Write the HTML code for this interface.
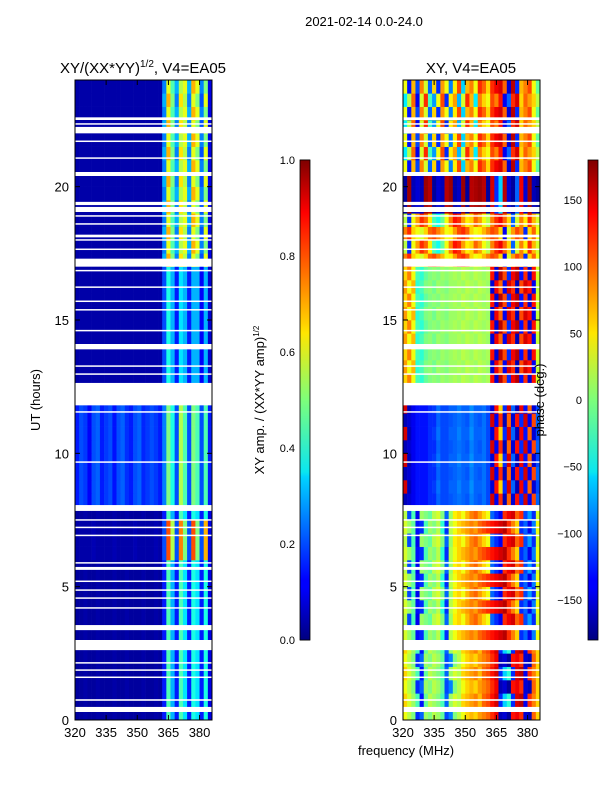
<!DOCTYPE html>
<html><head><meta charset="utf-8">
<style>
html,body{margin:0;padding:0;background:#fff;}
svg{display:block;font-family:"Liberation Sans",sans-serif;}
</style></head>
<body>
<svg id="fig" width="600" height="800" viewBox="0 0 600 800">
<defs>
<linearGradient id="jet" x1="0" y1="1" x2="0" y2="0">
<stop offset="0" stop-color="#00007f"/><stop offset="0.11" stop-color="#0000ff"/>
<stop offset="0.125" stop-color="#0000ff"/><stop offset="0.34" stop-color="#00d4ff"/>
<stop offset="0.35" stop-color="#0ae6f0"/><stop offset="0.5" stop-color="#7dff7a"/>
<stop offset="0.64" stop-color="#ffe600"/><stop offset="0.66" stop-color="#ffd000"/>
<stop offset="0.89" stop-color="#ff0000"/><stop offset="1" stop-color="#7f0000"/>
</linearGradient>
</defs>
<text x="364" y="26" font-size="13" text-anchor="middle">2021-02-14 0.0-24.0</text>
<text x="143" y="73" font-size="15" text-anchor="middle">XY/(XX*YY)<tspan dy="-6" font-size="10">1/2</tspan><tspan dy="6">, V4=EA05</tspan></text>
<text x="471" y="73" font-size="15" text-anchor="middle">XY, V4=EA05</text>
<g id="left"></g>
<g id="right"></g>
<g id="axes"></g>
<rect x="300" y="160" width="10" height="480" fill="url(#jet)" stroke="#000" stroke-width="0.8"/>
<rect x="588" y="160" width="10" height="480" fill="url(#jet)" stroke="#000" stroke-width="0.8"/>
<text transform="translate(40,400) rotate(-90)" font-size="13" text-anchor="middle">UT (hours)</text>
<text x="406" y="755" font-size="13" text-anchor="middle">frequency (MHz)</text>
<text transform="translate(264,400) rotate(-90)" font-size="13" text-anchor="middle">XY amp. / (XX*YY amp)<tspan dy="-5" font-size="8">1/2</tspan></text>
<text transform="translate(544,400) rotate(-90)" font-size="13" text-anchor="middle">phase (deg.)</text>
</svg>
<script>
const NS="http://www.w3.org/2000/svg";
// ---- data ----
const freqStart=320, freqStep=2, nFreq=33;
const rowHours=0.5;
const yTicks=[0,5,10,15,20];
const xTicks=[320,335,350,365,380];
const ampTicks=[0.0,0.2,0.4,0.6,0.8,1.0];
const phaseTicks=[-150,-100,-50,0,50,100,150];
const gaps=[[0.3,0.49],[0.72,0.78],[1.58,1.63],[1.85,1.9],[2.12,2.17],[2.62,3.0],[3.37,3.56],[4.18,4.23],[4.55,4.6],[4.85,4.9],[5.18,5.23],[5.63,5.74],[5.87,5.92],[6.9,6.95],[7.2,7.25],[7.48,7.53],[7.84,8.06],[9.65,9.7],[11.53,11.58],[11.8,12.64],[12.95,13.0],[13.25,13.3],[13.9,14.1],[14.58,14.63],[15.36,15.41],[15.68,15.73],[16.21,16.26],[16.83,16.88],[17.0,17.3],[17.63,17.68],[17.98,18.03],[18.1,18.2],[18.58,18.63],[18.88,18.93],[19.05,19.24],[19.31,19.43],[20.4,20.55],[21.05,21.1],[21.68,21.73],[22.0,22.24],[22.33,22.38],[22.5,22.6]];
const L_low=[0.03,0.03,0.04,0.03,0.03,0.04,0.03,0.03,0.03,0.04,0.03,0.03,0.04,0.03,0.03,0.03,0.04,0.03,0.03,0.04,0.03,0.15,0.45,0.3,0.15,0.45,0.35,0.15,0.4,0.35,0.15,0.4,0.1];
const L_orange=[0.04,0.04,0.04,0.04,0.05,0.04,0.04,0.04,0.04,0.05,0.04,0.04,0.04,0.04,0.05,0.04,0.04,0.04,0.04,0.05,0.04,0.2,0.8,0.55,0.2,0.75,0.5,0.2,0.8,0.5,0.2,0.7,0.1];
const L_blue=[0.15,0.2,0.18,0.12,0.2,0.22,0.15,0.18,0.2,0.14,0.2,0.22,0.17,0.15,0.2,0.22,0.16,0.18,0.2,0.18,0.15,0.25,0.5,0.4,0.2,0.55,0.45,0.2,0.5,0.45,0.2,0.45,0.15];
const L_mid=[0.04,0.04,0.04,0.04,0.04,0.04,0.04,0.04,0.04,0.04,0.04,0.04,0.04,0.04,0.04,0.04,0.04,0.04,0.04,0.04,0.04,0.2,0.4,0.3,0.15,0.35,0.3,0.15,0.3,0.3,0.12,0.3,0.08];
const L_bright=[0.04,0.04,0.04,0.04,0.04,0.04,0.04,0.04,0.04,0.04,0.04,0.04,0.04,0.04,0.04,0.04,0.04,0.04,0.04,0.04,0.04,0.3,0.7,0.5,0.25,0.65,0.55,0.25,0.6,0.5,0.2,0.6,0.1];
const L_bright2=[0.04,0.04,0.04,0.04,0.04,0.04,0.04,0.04,0.04,0.04,0.04,0.04,0.04,0.04,0.04,0.04,0.04,0.04,0.04,0.04,0.04,0.25,0.6,0.45,0.3,0.55,0.6,0.3,0.7,0.6,0.25,0.5,0.1];
const R_low_a=[40,20,0,-120,-100,10,0,20,10,-10,-110,-90,0,20,40,60,70,60,80,90,100,120,140,-160,-150,-170,130,140,120,-150,-160,100,60];
const R_low_b=[60,30,10,-20,-130,-10,20,10,0,-20,-100,10,30,20,60,70,80,90,70,100,110,130,150,-120,-60,-30,-120,150,160,-140,120,90,60];
const R_mid_a=[30,10,-10,-130,-120,-20,10,0,20,-30,-120,20,40,60,70,80,90,80,100,110,120,130,140,150,160,120,90,60,-120,-100,-140,-90,40];
const R_mid_b=[20,-110,-20,-140,10,0,-10,20,30,0,-100,10,50,60,40,70,90,100,80,60,40,-100,-120,-140,120,140,150,100,120,-110,-80,-120,30];
const R_blue_a=[-160,-150,-140,-130,-130,-130,-120,-120,-100,-110,-110,-105,-100,-95,-100,-105,-90,-100,-105,-95,-110,150,-140,120,-160,100,-150,130,-120,150,-140,110,-100];
const R_blue_b=[150,-160,-140,-130,-130,-130,-120,-115,-95,-110,-110,-100,-100,-90,-100,-100,-85,-100,-100,-95,-110,-150,130,60,-120,150,-100,-160,140,-130,100,-150,-110];
const R_green_a=[60,90,40,-20,-30,-10,0,5,0,10,5,10,15,10,20,15,10,20,15,10,15,130,-150,160,110,-120,140,160,-130,120,-150,130,30];
const R_green_b=[80,40,70,-30,-20,0,5,-5,10,5,0,10,10,15,10,20,15,10,20,15,10,-150,140,100,-140,150,120,-160,110,150,130,-140,25];
const R_warm_a=[90,120,60,40,30,60,100,110,90,70,40,50,80,110,120,100,60,40,50,70,90,110,100,60,-140,30,80,110,90,-120,60,100,40];
const R_warm_b=[20,-120,40,80,120,100,50,-20,-40,-10,40,90,130,120,80,50,60,100,80,40,20,90,120,140,100,60,-100,30,90,50,120,70,30];
const R_dark=[-170,170,-160,-150,-160,170,160,-170,-150,-160,160,170,-165,-155,170,-170,160,165,170,160,-170,150,-120,-60,160,-150,-170,-100,140,-150,170,-160,-170];
const R_top_a=[40,-130,70,-110,90,30,-100,60,-120,80,40,-90,50,110,-60,70,90,40,120,100,60,120,140,150,100,-150,160,-120,70,90,110,40,-10];
const R_top_b=[-50,20,100,-140,30,120,-20,-80,40,110,-120,50,80,-70,30,120,70,-50,90,60,40,110,90,130,-140,-100,120,150,60,100,80,60,20];
// row (0.5 h each, from 0 h) -> profile
const leftRows=[L_low,L_low,L_low,L_low,L_low,L_low,L_low,L_low,L_low,L_low,L_low,L_low,L_orange,L_orange,L_orange,L_low,L_blue,L_blue,L_blue,L_blue,L_blue,L_blue,L_blue,L_blue,null,L_mid,L_mid,L_mid,L_mid,L_mid,L_mid,L_mid,L_mid,L_mid,L_bright,L_bright2,L_bright,L_bright2,L_bright,L_bright2,L_bright,L_bright2,L_bright,L_bright2,L_bright,L_bright2,L_bright,L_bright2];
const rightRows=[R_low_a,R_low_b,R_low_a,R_low_b,R_low_a,R_low_b,R_mid_a,R_mid_b,R_mid_a,R_mid_b,R_mid_a,R_mid_b,R_mid_a,R_mid_b,R_mid_a,R_mid_b,R_blue_a,R_blue_b,R_blue_a,R_blue_b,R_blue_a,R_blue_b,R_blue_a,R_blue_b,null,R_green_a,R_green_b,R_green_a,R_green_b,R_green_a,R_green_b,R_green_a,R_green_b,R_green_a,R_warm_a,R_warm_b,R_warm_a,R_warm_b,R_dark,R_dark,R_dark,R_top_a,R_top_b,R_top_a,R_top_b,R_top_a,R_top_b,R_top_a];
// ---- scales ----
const panels=[{id:'left',x0:75},{id:'right',x0:403}];
const PW=137, fMin=320, fMax=386, yTop=80, yBot=720, hMax=24;
function xS(x0,f){return x0+(f-fMin)*PW/(fMax-fMin);}
function yS(h){return yBot-h*(yBot-yTop)/hMax;}
function cbY(v,lo,hi){return 640-(v-lo)/(hi-lo)*480;}
function jet(v){v=Math.max(0,Math.min(1,v));
 const r=Math.min(4*v-1.5,-4*v+4.5),g=Math.min(4*v-0.5,-4*v+3.5),b=Math.min(4*v+0.5,-4*v+2.5);
 const c=x=>Math.round(255*Math.max(0,Math.min(1,x)));return `rgb(${c(r)},${c(g)},${c(b)})`;}
function mk(tag,attrs,parent){const e=document.createElementNS(NS,tag);for(const k in attrs)e.setAttribute(k,attrs[k]);parent.appendChild(e);return e;}
function drawHeat(p,rows,norm){
 const g=document.getElementById(p.id);
 rows.forEach((prof,ri)=>{ if(!prof)return;
  prof.forEach((val,ci)=>{
   const f0=freqStart+ci*freqStep, f1=Math.min(f0+freqStep,fMax);
   const r=mk('rect',{x:xS(p.x0,f0),y:yS((ri+1)*rowHours),width:xS(p.x0,f1)-xS(p.x0,f0)+0.3,height:yS(ri*rowHours)-yS((ri+1)*rowHours)+0.3,fill:jet(norm(val))},g);
   
   
  });
 });
 gaps.forEach(gp=>{
  const r=mk('rect',{x:p.x0,y:yS(gp[1]),width:PW,height:Math.max(1.5,yS(gp[0])-yS(gp[1])),fill:'#fff'},g);
  
  
 });
}
drawHeat(panels[0],leftRows,v=>v);
drawHeat(panels[1],rightRows,v=>(v+180)/360);
const ax=document.getElementById('axes');
panels.forEach(p=>{
 const fr=mk('rect',{x:p.x0,y:yTop,width:PW,height:yBot-yTop,fill:'none',stroke:'#000','stroke-width':1},ax);
 
 
 yTicks.forEach(t=>{const y=yS(t);
  mk('line',{x1:p.x0,x2:p.x0+5,y1:y,y2:y,stroke:'#000'},ax);
  mk('line',{x1:p.x0+PW-5,x2:p.x0+PW,y1:y,y2:y,stroke:'#000'},ax);
  const tx=mk('text',{x:p.x0-6,y:y+5,'font-size':13,'text-anchor':'end'},ax);tx.textContent=t;
  
  
 });
 xTicks.forEach(t=>{const x=xS(p.x0,t);
  mk('line',{x1:x,x2:x,y1:yBot,y2:yBot-5,stroke:'#000'},ax);
  mk('line',{x1:x,x2:x,y1:yTop,y2:yTop+5,stroke:'#000'},ax);
  const tx=mk('text',{x:x,y:yBot+17,'font-size':13,'text-anchor':'middle'},ax);tx.textContent=t;
  
  
 });
});
ampTicks.forEach(t=>{const y=cbY(t,0,1);
 mk('line',{x1:300,x2:310,y1:y,y2:y,stroke:'#000','stroke-width':0.8},ax);
 const tx=mk('text',{x:295,y:y+4,'font-size':11,'text-anchor':'end'},ax);tx.textContent=t.toFixed(1);
 
 
});
phaseTicks.forEach(t=>{const y=cbY(t,-180,180);
 mk('line',{x1:588,x2:598,y1:y,y2:y,stroke:'#000','stroke-width':0.8},ax);
 const tx=mk('text',{x:582,y:y+4,'font-size':11,'text-anchor':'end'},ax);tx.textContent=(t<0?'\u2212'+(-t):t);
 
 
});
</script>
</body></html>
